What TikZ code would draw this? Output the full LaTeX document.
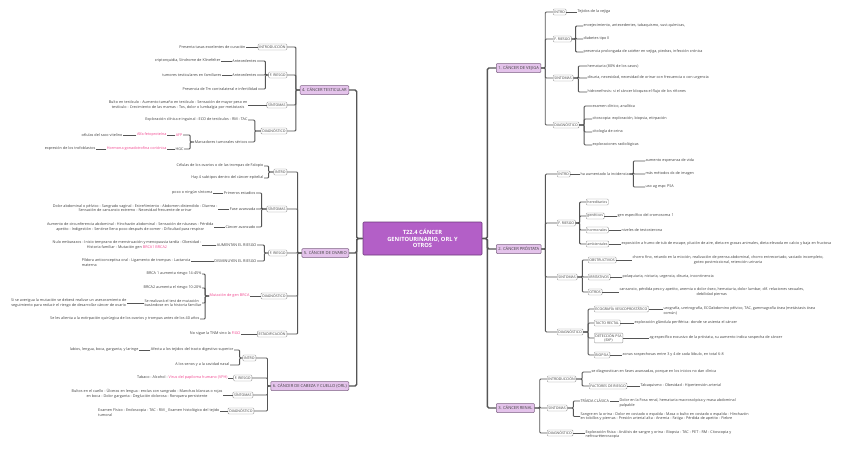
\documentclass[tikz,border=0pt]{standalone}
\usepackage{fontspec}
\setmainfont{Open Sans}
\usepackage{xcolor}
\usetikzlibrary{positioning}
\definecolor{rootfill}{HTML}{B35FC7}
\definecolor{rootline}{HTML}{6E3A7C}
\definecolor{mainfill}{HTML}{E4C3EB}
\definecolor{mainline}{HTML}{7E6384}
\definecolor{conngray}{HTML}{555555}
\definecolor{boxgray}{HTML}{959595}
\definecolor{pinktext}{HTML}{F2458F}
\definecolor{leafgray}{HTML}{404040}
\tikzset{
  line cap=round,
  line join=round,
  roottopic/.style={draw=rootline, fill=rootfill, rounded corners=2pt, line width=1.2pt, text=white, font=\bfseries\fontsize{11.5}{13.5}\selectfont, align=center, minimum width=238pt, minimum height=66pt},
  maintopic/.style={draw=mainline, fill=mainfill, rounded corners=2pt, line width=1pt, text=leafgray, font=\fontsize{8.2}{9}\selectfont, inner xsep=4pt, minimum height=18pt},
  subtopic/.style={draw=boxgray, fill=white, rounded corners=2pt, line width=0.8pt, text=leafgray, font=\fontsize{7}{8}\selectfont, inner xsep=2.5pt, inner ysep=2pt, minimum height=12pt, align=center},
  leaftext/.style={inner sep=1pt, text=leafgray, font=\fontsize{7.5}{9.5}\selectfont, align=left},
  pinkleaf/.style={leaftext, text=pinktext},
  mainconn/.style={draw=conngray, line width=2.8pt, rounded corners=3pt},
  conn/.style={draw=conngray, line width=1.8pt, rounded corners=2pt}
}
\newcommand{\pk}[1]{\textcolor{pinktext}{#1}}

\begin{document}
\begin{tikzpicture}[x=2pt,y=-2pt]
  \useasboundingbox (0,0) rectangle (848,459);
  \fill[white] (0,0) rectangle (848,459);

  \node[roottopic] (root) at (422.5,238.5) {T22.4 CÁNCER\\GENITOURINARIO, ORL Y\\OTROS};

  \node[maintopic, anchor=west] (vejiga) at (496,68) {1. CÁNCER DE VEJIGA};
  \node[maintopic, anchor=west] (prostata) at (496,249) {2. CÁNCER PRÓSTATA};
  \node[maintopic, anchor=west] (renal) at (496,408) {3. CÁNCER RENAL};
  \node[maintopic, anchor=east] (testicular) at (349,90) {4. CÁNCER TESTICULAR};
  \node[maintopic, anchor=east] (ovario) at (349,253) {5. CÁNCER DE OVARIO};
  \node[maintopic, anchor=east] (orl) at (349,386) {6. CÁNCER DE CABEZA Y CUELLO (ORL)};

  \foreach \t in {vejiga,prostata,renal}
    \draw[mainconn] (root.east) -- ++(5,0) |- (\t.west);
  \foreach \t in {testicular,ovario,orl}
    \draw[mainconn] (root.west) -- ++(-6,0) |- (\t.east);

  % 1. vejiga
  \node[subtopic, anchor=west] (v-intro) at (553,12) {INTRO};
  \node[subtopic, anchor=west] (v-riesgo) at (553,39) {F. RIESGO};
  \node[subtopic, anchor=west] (v-sint) at (553,78) {SINTOMAS};
  \node[subtopic, anchor=west] (v-diag) at (553,125) {DIAGNÓSTICO};
  \foreach \s in {v-intro,v-riesgo,v-sint,v-diag}
    \draw[conn] (vejiga.east) -- ++(4,0) |- (\s.west);

  \node[leaftext, anchor=west] (v-i1) at (577,12) {Tejidos de la vejiga};
  \draw[conn] (v-intro.east) -- (v-i1.west);

  \node[leaftext, anchor=west] (v-r1) at (583,26) {envejecimiento, antecedentes, tabaquismo, sust.químicas,};
  \node[leaftext, anchor=west] (v-r2) at (583,39) {diabetes tipo II};
  \node[leaftext, anchor=west] (v-r3) at (583,52) {presencia prolongada de catéter en vejiga, piedras, infección crónica};
  \foreach \l in {v-r1,v-r2,v-r3}
    \draw[conn] (v-riesgo.east) -- ++(4,0) |- (\l.west);

  \node[leaftext, anchor=west] (v-s1) at (587,66) {hematuria (80\% de los casos)};
  \node[leaftext, anchor=west] (v-s2) at (587,78) {disuria, necesidad, necesidad de orinar con frecuencia o con urgencia};
  \node[leaftext, anchor=west] (v-s3) at (587,92) {hidronefrosis: si el cáncer bloquea el flujo de los riñones};
  \foreach \l in {v-s1,v-s2,v-s3}
    \draw[conn] (v-sint.east) -- ++(5,0) |- (\l.west);

  \node[leaftext, anchor=west] (v-d1) at (592,106) {examen clínico, analítica};
  \node[leaftext, anchor=west] (v-d2) at (592,119) {citoscopia: exploración, biopsia, etirpación};
  \node[leaftext, anchor=west] (v-d3) at (592,132) {citología de orina};
  \node[leaftext, anchor=west] (v-d4) at (592,145) {exploraciones radiológicas};
  \foreach \l in {v-d1,v-d2,v-d3,v-d4}
    \draw[conn] (v-diag.east) -- ++(5,0) |- (\l.west);

  % 2. prostata
  \node[subtopic, anchor=west] (p-intro) at (557,174) {INTRO};
  \node[subtopic, anchor=west] (p-riesgo) at (557,223) {F. RIESGO};
  \node[subtopic, anchor=west] (p-sint) at (557,277) {SINTOMAS};
  \node[subtopic, anchor=west] (p-diag) at (557,332) {DIAGNÓSTICO};
  \foreach \s in {p-intro,p-riesgo,p-sint,p-diag}
    \draw[conn] (prostata.east) -- ++(4,0) |- (\s.west);

  \node[leaftext, anchor=west] (p-i0) at (580,174) {ha aumentado la incidencia};
  \draw[conn] (p-intro.east) -- (p-i0.west);
  \node[leaftext, anchor=west] (p-i1) at (645,161) {aumento esperanza de vida};
  \node[leaftext, anchor=west] (p-i2) at (645,174) {más métodos dx de imagen};
  \node[leaftext, anchor=west] (p-i3) at (645,187) {uso ag espc PSA};
  \foreach \l in {p-i1,p-i2,p-i3}
    \draw[conn] (p-i0.east) -- ++(4,0) |- (\l.west);

  \node[subtopic, anchor=west] (p-her) at (586,202) {hereditarios};
  \node[subtopic, anchor=west] (p-gen) at (586,216) {genéticos};
  \node[subtopic, anchor=west] (p-hor) at (586,230) {hormonales};
  \node[subtopic, anchor=west] (p-amb) at (586,244) {ambientales};
  \foreach \s in {p-her,p-gen,p-hor,p-amb}
    \draw[conn] (p-riesgo.east) -- ++(4,0) |- (\s.west);
  \node[leaftext, anchor=west] (p-gen1) at (617,216) {gen específico del cromosoma 1};
  \node[leaftext, anchor=west] (p-hor1) at (621,230) {niveles de testosterona};
  \node[leaftext, anchor=west] (p-amb1) at (621,244) {exposición a humo de tub de escape, plución de aire, dieta en grasas animales, dieta elevada en calcio y baja en fructosa};
  \draw[conn] (p-gen.east) -- (p-gen1.west);
  \draw[conn] (p-hor.east) -- (p-hor1.west);
  \draw[conn] (p-amb.east) -- (p-amb1.west);

  \node[subtopic, anchor=west] (p-obs) at (588,260) {OBSTRUCTIVOS};
  \node[subtopic, anchor=west] (p-irr) at (588,277) {IRRITATIVOS};
  \node[subtopic, anchor=west] (p-otr) at (588,292) {OTROS};
  \foreach \s in {p-obs,p-irr,p-otr}
    \draw[conn] (p-sint.east) -- ++(5,0) |- (\s.west);
  \node[leaftext, anchor=west, align=center] (p-obs1) at (632,260) {chorro fino, retardo en la micción, realización de prensa abdominal, chorro entrecortado, vaciado incompleto,\\goteo postmiccional, retención urinaria};
  \node[leaftext, anchor=west] (p-irr1) at (622,277) {polaquiuria, nicturia, urgencia, disuria, incontinencia};
  \node[leaftext, anchor=west, align=center] (p-otr1) at (619,292) {cansancio, pérdida peso y apetito, anemia o dolor óseo, hematuria, dolor lumbar, dif. relaciones sexuales,\\debilidad piernas};
  \draw[conn] (p-obs.east) -- (p-obs1.west);
  \draw[conn] (p-irr.east) -- (p-irr1.west);
  \draw[conn] (p-otr.east) -- (p-otr1.west);

  \node[subtopic, anchor=west] (p-eco) at (594,309) {ECOGRAFÍA VESICOPROSTÁTICO};
  \node[subtopic, anchor=west] (p-tac) at (594,323) {TACTO RECTAL};
  \node[subtopic, anchor=west] (p-psa) at (594,338) {DETECCIÓN PSA\\(EXP)};
  \node[subtopic, anchor=west] (p-bio) at (594,355) {BIOPSIA};
  \foreach \s in {p-eco,p-tac,p-psa,p-bio}
    \draw[conn] (p-diag.east) -- ++(5,0) |- (\s.west);
  \node[leaftext, anchor=west] (p-eco1) at (663,311) {urografía, uretrografía, ECOabdomino pélvico, TAC, gammagrafía ósea (metástasis ósea\\común)};
  \node[leaftext, anchor=west] (p-tac1) at (634,323) {exploración glándula periférica: donde se asienta el cáncer};
  \node[leaftext, anchor=west] (p-psa1) at (649,338) {ag específico excusivo de la próstata, su aumento indica sospecha de cáncer};
  \node[leaftext, anchor=west] (p-bio1) at (622,355) {zonas sospechosas entre 3 y 4 de cada lóbulo, en total 6-8};
  \draw[conn] (p-eco.east) -- (p-eco.east -| p-eco1.west);
  \draw[conn] (p-tac.east) -- (p-tac1.west);
  \draw[conn] (p-psa.east) -- (p-psa1.west);
  \draw[conn] (p-bio.east) -- (p-bio1.west);

  % 3. renal
  \node[subtopic, anchor=west] (r-intro) at (547,379) {INTRODUCCIÓN};
  \node[subtopic, anchor=west] (r-sint) at (547,408) {SINTOMAS};
  \node[subtopic, anchor=west] (r-diag) at (547,433) {DIAGNÓSTICO};
  \foreach \s in {r-intro,r-sint,r-diag}
    \draw[conn] (renal.east) -- ++(5,0) |- (\s.west);

  \node[leaftext, anchor=west] (r-i1) at (591,372) {se diagnostican en fases avanzadas, porque en los inicios no dan clínica};
  \node[subtopic, anchor=west] (r-fac) at (589,386) {FACTORES DE RIESGO};
  \foreach \l in {r-i1,r-fac}
    \draw[conn] (r-intro.east) -- ++(6,0) |- (\l.west);
  \node[leaftext, anchor=west] (r-fac1) at (640,386) {Tabaquismo - Obesidad - Hipertensión arterial};
  \draw[conn] (r-fac.east) -- (r-fac1.west);

  \node[leaftext, anchor=west] (r-tri) at (580,401) {TRÍADA CLÁSICA};
  \node[leaftext, anchor=west] (r-s2) at (580,416.5) {Sangre en la orina - Dolor en costado o espalda - Masa o bulto en costado o espalda - Hinchazón\\en tobillos y piernas - Presión arterial alta - Anemia - Fatiga - Pérdida de apetito - Fiebre};
  \foreach \l in {r-tri,r-s2}
    \draw[conn] (r-sint.east) -- ++(6,0) |- (\l.west);
  \node[leaftext, anchor=west] (r-tri1) at (619,403) {Dolor en la Fosa renal, hematuria macroscópica y masa abdominal\\palpable};
  \draw[conn] (r-tri.east) -- (r-tri.east -| r-tri1.west);

  \node[leaftext, anchor=west] (r-d1) at (585,434.5) {Exploración física - Análisis de sangre y orina - Biopsia - TAC - PET - RM - Citoscopia y\\nefrouréteroscopia};
  \draw[conn] (r-diag.east) -- (r-diag.east -| r-d1.west);

  % 4. testicular
  \node[subtopic, anchor=east] (t-intro) at (287,47) {INTRODUCCIÓN};
  \node[subtopic, anchor=east] (t-riesgo) at (287,75) {F. RIESGO};
  \node[subtopic, anchor=east] (t-sint) at (287,105) {SÍNTOMAS};
  \node[subtopic, anchor=east] (t-diag) at (287,131) {DIAGNÓSTICO};
  \foreach \s in {t-intro,t-riesgo,t-sint,t-diag}
    \draw[conn] (testicular.west) -- ++(-4,0) |- (\s.east);

  \node[leaftext, anchor=east] (t-i1) at (246,47) {Presenta tasas excelentes de curación};
  \draw[conn] (t-intro.west) -- (t-i1.east);

  \node[leaftext, anchor=east] (t-r1) at (257,61) {Antecedentes};
  \node[leaftext, anchor=east] (t-r2) at (257,75) {Antecedentes};
  \node[leaftext, anchor=east] (t-r3) at (258,89) {Presencia de Tm contralateral e infertilidad};
  \foreach \l in {t-r1,t-r2,t-r3}
    \draw[conn] (t-riesgo.west) -- ++(-3,0) |- (\l.east);
  \node[leaftext, anchor=east] (t-r1a) at (221,61) {criptorquidia, Síndrome de Klinefelter};
  \node[leaftext, anchor=east] (t-r2a) at (222,75) {tumores testiculares en familiares};
  \draw[conn] (t-r1.west) -- (t-r1a.east);
  \draw[conn] (t-r2.west) -- (t-r2a.east);

  \node[leaftext, anchor=east, align=center] (t-s1) at (248,105) {Bulto en testículo - Aumento tamaño en testículo - Sensación de mayor peso en\\testículo - Crecimiento de las mamas - Tos, dolor o lumbalgia por metástasis};
  \draw[conn] (t-sint.west) -- (t-s1.east);

  \node[leaftext, anchor=east] (t-d1) at (248,120) {Exploración clínica e inguinal - ECO de testículos - RM - TAC};
  \node[leaftext, anchor=east] (t-d2) at (248,142) {Marcadores tumorales séricos};
  \foreach \l in {t-d1,t-d2}
    \draw[conn] (t-diag.west) -- ++(-6,0) |- (\l.east);
  \node[pinkleaf, anchor=east] (t-afp) at (183,135) {AFP};
  \node[leaftext, anchor=east] (t-hgc) at (184,149) {HGC};
  \foreach \l in {t-afp,t-hgc}
    \draw[conn] (t-d2.west) -- ++(-4,0) |- (\l.east);
  \node[pinkleaf, anchor=east] (t-afp1) at (167,135) {Alfa fetoproteína};
  \node[leaftext, anchor=east] (t-afp2) at (123,135) {células del saco vitelino};
  \node[pinkleaf, anchor=east] (t-hgc1) at (167,149) {Hormona gonadotrofina coriónica};
  \node[leaftext, anchor=east] (t-hgc2) at (96,149) {expresión de los trofoblastos};
  \draw[conn] (t-afp.west) -- (t-afp1.east);
  \draw[conn] (t-afp1.west) -- (t-afp2.east);
  \draw[conn] (t-hgc.west) -- (t-hgc1.east);
  \draw[conn] (t-hgc1.west) -- (t-hgc2.east);

  % 5. ovario
  \node[subtopic, anchor=east] (o-intro) at (287,172) {INTRO};
  \node[subtopic, anchor=east] (o-sint) at (287,209) {SÍNTOMAS};
  \node[subtopic, anchor=east] (o-riesgo) at (287,253) {F. RIESGO};
  \node[subtopic, anchor=east] (o-diag) at (287,296) {DIAGNÓSTICO};
  \node[subtopic, anchor=east] (o-estad) at (287,334) {ESTADIFICACIÓN};
  \foreach \s in {o-intro,o-sint,o-riesgo,o-diag,o-estad}
    \draw[conn] (ovario.west) -- ++(-4,0) |- (\s.east);

  \node[leaftext, anchor=east] (o-i1) at (264,166) {Células de los ovarios o de las trompas de Falopio};
  \node[leaftext, anchor=east] (o-i2) at (264,178) {Hay 4 subtipos dentro del cáncer epitelial};
  \foreach \l in {o-i1,o-i2}
    \draw[conn] (o-intro.west) -- ++(-5,0) |- (\l.east);

  \node[leaftext, anchor=east] (o-s1) at (256,193) {Primeros estadios};
  \node[leaftext, anchor=east] (o-s2) at (256,209) {Fase avanzada};
  \node[leaftext, anchor=east] (o-s3) at (256,227) {Cáncer avanzado};
  \foreach \l in {o-s1,o-s2,o-s3}
    \draw[conn] (o-sint.west) -- ++(-5,0) |- (\l.east);
  \node[leaftext, anchor=east] (o-s1a) at (213,193) {poco o ningún síntoma};
  \node[leaftext, anchor=east, align=center] (o-s2a) at (218,208) {Dolor abdominal o pélvico - Sangrado vaginal - Estreñimiento - Abdomen distendido - Diarrea -\\Sensación de cansancio extremo - Necesidad frecuente de orinar};
  \node[leaftext, anchor=east, align=center] (o-s3a) at (214,227) {Aumento de circunferencia abdominal - Hinchazón abdominal - Sensación de náuseas - Pérdida\\apetito - Indigestión - Sentirse lleno poco después de comer - Dificultad para respirar};
  \draw[conn] (o-s1.west) -- (o-s1a.east);
  \draw[conn] (o-s2.west) -- (o-s2.west -| o-s2a.east);
  \draw[conn] (o-s3.west) -- (o-s3a.east);

  \node[leaftext, anchor=east] (o-r1) at (257,245) {AUMENTAN EL RIESGO};
  \node[leaftext, anchor=east] (o-r2) at (257,261) {DISMINUYEN EL RIESGO};
  \foreach \l in {o-r1,o-r2}
    \draw[conn] (o-riesgo.west) -- ++(-4,0) |- (\l.east);
  \node[leaftext, anchor=east, align=center] (o-r1a) at (202,244.7) {Nulo embarazos - Inicio temprano de menstruación y menopausia tardía - Obesidad -\\Historia familiar - Mutación gen \pk{BRCA1 BRCA2}};
  \node[leaftext, anchor=east] (o-r2a) at (191,262.5) {Píldora anticonceptiva oral - Ligamento de trompas - Lactancia\\materna};
  \draw[conn] (o-r1.west) -- (o-r1.west -| o-r1a.east);
  \draw[conn] (o-r2.west) -- (o-r2.west -| o-r2a.east);

  \node[pinkleaf, anchor=east] (o-mut) at (250,296) {Mutación de gen BRCA};
  \draw[conn] (o-diag.west) -- (o-mut.east);
  \node[leaftext, anchor=east] (o-m1) at (202,274) {BRCA 1 aumenta riesgo 14-45\%};
  \node[leaftext, anchor=east] (o-m2) at (202,288) {BRCA2 aumenta el riesgo 10-20\%};
  \node[leaftext, anchor=east] (o-m3) at (202,303) {Se realizará el test de mutación\\basándose en la historia familiar};
  \node[leaftext, anchor=east] (o-m4) at (200,319) {Se les alienta a la extirpación quirúrgica de los ovarios y trompas antes de los 40 años};
  \foreach \l in {o-m1,o-m2,o-m3,o-m4}
    \draw[conn] (o-mut.west) -- ++(-4,0) |- (\l.east);
  \node[leaftext, anchor=east, align=center] (o-m3a) at (127,303) {Si se averigua la mutación se deberá realizar un asesoramiento de\\seguimiento para reducir el riesgo de desarrollar cáncer de ovario};
  \draw[conn] (o-m3.west) -- (o-m3a.east);

  \node[leaftext, anchor=east] (o-e1) at (241,334) {No sigue la TNM sino la \pk{FIGO}};
  \draw[conn] (o-estad.west) -- (o-e1.east);

  % 6. ORL
  \node[subtopic, anchor=east] (c-intro) at (256,358) {INTRO};
  \node[subtopic, anchor=east] (c-riesgo) at (252,378) {F. RIESGO};
  \node[subtopic, anchor=east] (c-sint) at (253,395) {SÍNTOMAS};
  \node[subtopic, anchor=east] (c-diag) at (254,411) {DIAGNÓSTICO};
  \foreach \s in {c-intro,c-riesgo,c-sint,c-diag}
    \draw[conn] (orl.west) -- ++(-3,0) |- (\s.east);

  \node[leaftext, anchor=east] (c-i1) at (234,350) {Afecta a los tejidos del tracto digestivo superior};
  \node[leaftext, anchor=east] (c-i2) at (230,365) {A los senos y a la cavidad nasal};
  \foreach \l in {c-i1,c-i2}
    \draw[conn] (c-intro.west) -- ++(-3,0) |- (\l.east);
  \node[leaftext, anchor=east] (c-i1a) at (139,350) {labios, lengua, boca, garganta, y laringe};
  \draw[conn] (c-i1.west) -- (c-i1a.east);

  \node[leaftext, anchor=east] (c-r1) at (228,378) {Tabaco - Alcohol - \pk{Virus del papiloma humano (VPH)}};
  \draw[conn] (c-riesgo.west) -- (c-r1.east);

  \node[leaftext, anchor=east, align=center] (c-s1) at (223,394) {Bultos en el cuello - Úlceras en lengua - encías con sangrado - Manchas blancas o rojas\\en boca - Dolor garganta - Deglución dolorosa - Ronquera persistente};
  \draw[conn] (c-sint.west) -- (c-sint.west -| c-s1.east);

  \node[leaftext, anchor=east] (c-d1) at (220,412.5) {Examen Físico - Endoscopia - TAC - RM \_ Examen histológico del tejido\\tumoral};
  \draw[conn] (c-diag.west) -- (c-diag.west -| c-d1.east);
\end{tikzpicture}
\end{document}
